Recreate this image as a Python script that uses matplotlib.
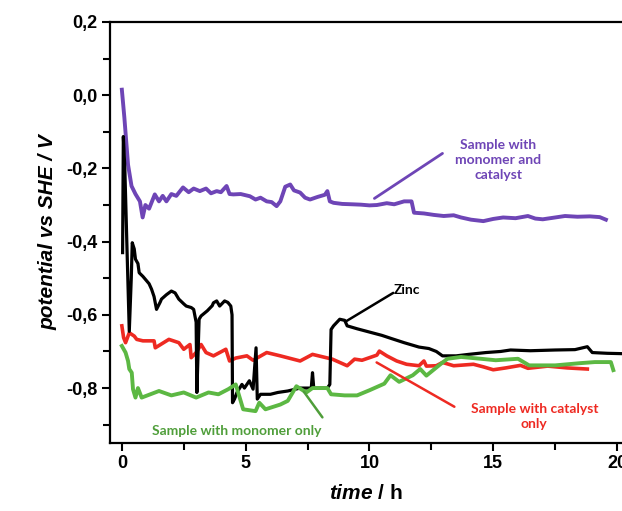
import matplotlib
matplotlib.use("Agg")
import matplotlib.pyplot as plt

plt.rcParams['font.family'] = ['Liberation Sans', 'DejaVu Sans']
plt.rcParams['mathtext.fontset'] = 'custom'
plt.rcParams['mathtext.it'] = 'Liberation Sans:italic:bold'
plt.rcParams['mathtext.rm'] = 'Liberation Sans:bold'

# data: time in h, potential vs SHE in V
t_purple = [0.0, 0.1, 0.25, 0.39, 0.55, 0.73, 0.84, 0.95, 1.1, 1.33, 1.5, 1.65, 1.8, 2.0,
            2.2, 2.47, 2.7, 2.9, 3.15, 3.4, 3.6, 3.83, 4.0, 4.23, 4.35, 4.5, 4.8, 5.17,
            5.4, 5.6, 5.85, 6.05, 6.25, 6.4, 6.6, 6.8, 6.95, 7.2, 7.4, 7.6, 7.9, 8.2,
            8.3, 8.4, 8.55, 8.9, 9.3, 9.65, 10.0, 10.3, 10.7, 11.0, 11.4, 11.7, 11.8,
            12.2, 12.6, 13.0, 13.4, 13.7, 14.1, 14.6, 15.0, 15.4, 15.9, 16.4, 16.7,
            17.0, 17.4, 17.9, 18.4, 18.9, 19.3, 19.55]
v_purple = [0.015, -0.06, -0.19, -0.248, -0.27, -0.29, -0.334, -0.30, -0.31, -0.271, -0.29,
            -0.275, -0.29, -0.27, -0.275, -0.252, -0.265, -0.255, -0.262, -0.255, -0.268,
            -0.262, -0.265, -0.248, -0.27, -0.271, -0.27, -0.276, -0.285, -0.28, -0.29,
            -0.292, -0.303, -0.29, -0.25, -0.244, -0.26, -0.266, -0.28, -0.285, -0.278,
            -0.272, -0.262, -0.29, -0.294, -0.297, -0.298, -0.299, -0.301, -0.30, -0.295,
            -0.298, -0.29, -0.29, -0.321, -0.323, -0.327, -0.33, -0.328, -0.334, -0.34,
            -0.344, -0.338, -0.334, -0.336, -0.33, -0.337, -0.339, -0.335, -0.33, -0.332,
            -0.331, -0.333, -0.34]

t_zinc = [0.03, 0.06, 0.12, 0.2, 0.3, 0.38, 0.42, 0.5, 0.55, 0.65, 0.7, 0.85, 0.95, 1.1,
          1.2, 1.3, 1.4, 1.55, 1.6, 1.8, 2.0, 2.15, 2.3, 2.5, 2.6, 2.8, 2.9, 3.0, 3.03,
          3.08, 3.12, 3.2, 3.45, 3.65, 3.7, 3.83, 3.95, 4.15, 4.28, 4.4, 4.45, 4.47, 4.55,
          4.65, 4.85, 4.95, 5.15, 5.3, 5.42, 5.47, 5.6, 6.0, 6.3, 6.7, 7.2, 7.65, 7.7,
          7.75, 8.3, 8.4, 8.45, 8.55, 8.8, 9.0, 9.1, 9.5, 10.0, 10.5, 10.9, 11.4, 12.0,
          12.4, 12.7, 12.95, 13.5, 14.0, 14.7, 15.3, 15.7, 16.5, 17.0, 17.5, 18.3, 18.8,
          19.0, 19.6, 20.2]
v_zinc = [-0.43, -0.113, -0.20, -0.40, -0.645, -0.50, -0.403, -0.42, -0.448, -0.46, -0.485,
          -0.495, -0.503, -0.515, -0.53, -0.55, -0.585, -0.565, -0.557, -0.545, -0.535,
          -0.54, -0.557, -0.57, -0.576, -0.58, -0.585, -0.62, -0.812, -0.70, -0.612,
          -0.603, -0.589, -0.575, -0.567, -0.562, -0.576, -0.562, -0.566, -0.576, -0.60,
          -0.84, -0.83, -0.812, -0.79, -0.80, -0.78, -0.803, -0.69, -0.83, -0.817, -0.817,
          -0.812, -0.808, -0.80, -0.80, -0.758, -0.80, -0.80, -0.79, -0.64, -0.63, -0.612,
          -0.615, -0.63, -0.638, -0.647, -0.656, -0.665, -0.676, -0.688, -0.692, -0.70,
          -0.712, -0.712, -0.708, -0.703, -0.70, -0.696, -0.698, -0.697, -0.696, -0.695,
          -0.687, -0.703, -0.705, -0.706]

t_catalyst = [0.0, 0.07, 0.15, 0.3, 0.5, 0.6, 0.85, 1.3, 1.35, 1.9, 2.3, 2.5, 2.75, 2.8,
              3.0, 3.2, 3.4, 3.7, 4.2, 4.35, 4.6, 5.05, 5.3, 5.85, 6.4, 7.2, 7.7, 8.5,
              9.1, 9.4, 9.7, 10.0, 10.3, 10.4, 10.7, 11.1, 11.5, 12.0, 12.2, 12.3, 12.7,
              12.95, 13.4, 14.2, 14.6, 15.0, 15.5, 16.1, 16.4, 17.2, 18.0, 18.8]
v_catalyst = [-0.63, -0.662, -0.676, -0.649, -0.658, -0.667, -0.671, -0.671, -0.69, -0.667,
              -0.676, -0.694, -0.681, -0.717, -0.703, -0.681, -0.703, -0.712, -0.694,
              -0.726, -0.718, -0.712, -0.724, -0.703, -0.712, -0.726, -0.708, -0.721,
              -0.739, -0.721, -0.724, -0.717, -0.71, -0.699, -0.712, -0.726, -0.735,
              -0.739, -0.726, -0.74, -0.739, -0.73, -0.739, -0.735, -0.742, -0.75, -0.745,
              -0.738, -0.746, -0.74, -0.745, -0.748]

t_monomer = [0.0, 0.15, 0.25, 0.3, 0.4, 0.45, 0.55, 0.65, 0.8, 1.5, 2.0, 2.5, 3.0, 3.5,
             3.9, 4.3, 4.6, 4.9, 5.4, 5.55, 5.8, 6.4, 6.7, 7.05, 7.45, 7.7, 8.3, 8.45,
             9.0, 9.5, 10.0, 10.6, 10.85, 11.2, 11.75, 12.05, 12.3, 12.9, 13.15, 13.7,
             14.5, 15.1, 16.0, 16.45, 17.5, 18.5, 19.1, 19.75, 19.85]
v_monomer = [-0.685, -0.703, -0.726, -0.748, -0.758, -0.803, -0.826, -0.80, -0.826, -0.808,
             -0.82, -0.812, -0.826, -0.812, -0.817, -0.803, -0.79, -0.858, -0.863, -0.84,
             -0.858, -0.845, -0.835, -0.795, -0.812, -0.80, -0.80, -0.817, -0.82, -0.82,
             -0.806, -0.788, -0.765, -0.783, -0.765, -0.748, -0.766, -0.733, -0.72,
             -0.715, -0.72, -0.724, -0.72, -0.738, -0.738, -0.732, -0.729, -0.729, -0.751]

x_ticks = [0, 5, 10, 15, 20]
y_ticks = [0.2, 0.0, -0.2, -0.4, -0.6, -0.8]
y_tick_labels = ['0,2', '0,0', '-0,2', '-0,4', '-0,6', '-0,8']

purple = '#6e45b6'
red = '#ee2a22'
green = '#5cb843'

fig = plt.figure(figsize=(6.22, 5.11), dpi=100)
ax = fig.add_axes([0.1768, 0.1331, 0.8232, 0.8239])

ax.plot(t_purple, v_purple, color=purple, lw=2.8)
ax.plot(t_catalyst, v_catalyst, color=red, lw=2.6)
ax.plot(t_zinc, v_zinc, color='black', lw=2.3)
ax.plot(t_monomer, v_monomer, color=green, lw=2.8)

ax.set_xlim(-0.48, 20.2)
ax.set_ylim(-0.95, 0.2)
ax.set_xticks(x_ticks)
ax.set_xticks([2.5, 7.5, 12.5, 17.5], minor=True)
ax.set_yticks(y_ticks)
ax.set_yticklabels(y_tick_labels)
ax.set_yticks([0.1, -0.1, -0.3, -0.5, -0.7, -0.9], minor=True)
ax.tick_params(which='both', direction='out', width=1.5, labelsize=13, pad=3)
ax.tick_params(which='major', length=6)
ax.tick_params(which='minor', length=5)
for lab in ax.get_xticklabels() + ax.get_yticklabels():
    lab.set_fontweight('bold')

ax.spines['right'].set_visible(False)
for side in ['left', 'top', 'bottom']:
    ax.spines[side].set_linewidth(1.6)

ax.set_xlabel(r'$\mathit{time}$ / h', fontsize=15, fontweight='bold', labelpad=8)
ax.set_ylabel('potential vs SHE / V', fontsize=15, fontweight='bold', style='italic',
              labelpad=6)

# annotations
note_font = dict(family='Lato', fontweight='bold', fontsize=10, ha='center', va='center',
                 linespacing=1.3)
ax.annotate('', xy=(10.2, -0.282), xytext=(12.95, -0.159),
            arrowprops=dict(arrowstyle='-', color=purple, lw=2, shrinkA=0, shrinkB=0))
ax.text(15.2, -0.177, 'Sample with\nmonomer and\ncatalyst', color=purple, **note_font)

ax.annotate('', xy=(9.07, -0.617), xytext=(10.96, -0.54),
            arrowprops=dict(arrowstyle='-', color='black', lw=1.8, shrinkA=0, shrinkB=0))
ax.text(11.5, -0.533, 'Zinc', color='black', **note_font)

ax.annotate('', xy=(10.29, -0.73), xytext=(13.43, -0.851),
            arrowprops=dict(arrowstyle='-', color=red, lw=1.8, shrinkA=0, shrinkB=0))
ax.text(16.66, -0.877, 'Sample with catalyst\nonly', color=red, **note_font)

ax.annotate('', xy=(7.35, -0.81), xytext=(8.1, -0.88),
            arrowprops=dict(arrowstyle='-', color='#4f9e3a', lw=1.8, shrinkA=0, shrinkB=0))
ax.text(4.64, -0.917, 'Sample with monomer only', color='#4f9e3a', **note_font)

fig.savefig('out.png', dpi=100)
